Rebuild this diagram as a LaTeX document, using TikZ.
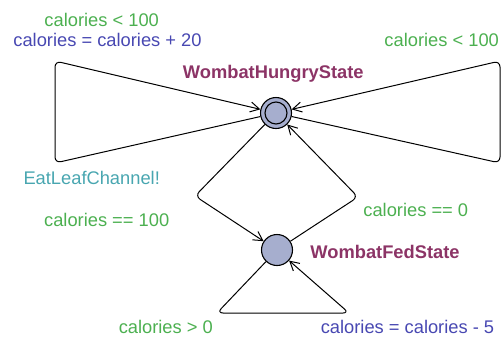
\documentclass[tikz,border=0pt]{standalone}
\usepackage{fontspec}
\setmainfont{Liberation Sans}
\usetikzlibrary{arrows.meta}
\definecolor{guardc}{RGB}{76,176,80}
\definecolor{assignc}{RGB}{72,72,178}
\definecolor{syncc}{RGB}{72,166,176}
\definecolor{namec}{RGB}{140,52,102}
\definecolor{statefill}{RGB}{166,174,206}
\tikzset{
  lbl/.style={anchor=base, inner sep=0pt, font=\fontsize{18.3}{20}\selectfont},
  guard/.style={lbl, text=guardc},
  assign/.style={lbl, text=assignc},
  sync/.style={lbl, text=syncc},
  sname/.style={lbl, text=namec, font=\fontsize{18.3}{20}\selectfont\bfseries},
  state/.style={circle, draw=black, line width=1.1pt, fill=statefill, minimum size=31pt, inner sep=0pt},
  edge/.style={line width=1pt, rounded corners=6pt},
  arr/.style={-{Straight Barb[length=9pt,width=10pt,line width=1pt]}}
}
\begin{document}
\begin{tikzpicture}[x=1pt,y=-1pt]
\useasboundingbox (0,0) rectangle (503,338);
% states
\node[state] (h) at (276,113) {};
\draw[line width=1.1pt] (h.center) circle (11pt);
\node[state] (f) at (277,250) {};
% corner coordinates
\coordinate (lt) at (55,61);
\coordinate (lb) at (55,163);
\coordinate (rt) at (500,61);
\coordinate (rb) at (500,163);
\coordinate (hl) at (195,196);
\coordinate (fr) at (358,197);
\coordinate (bl) at (217,313);
\coordinate (br) at (349,313);
% edges
\draw[edge,arr] (h) -- (lb) -- (lt) -- (h);
\draw[edge,arr] (h) -- (rb) -- (rt) -- (h);
\draw[edge,arr] (h) -- (hl) -- (f);
\draw[edge,arr] (f) -- (fr) -- (h);
\draw[edge,arr] (f) -- (bl) -- (br) -- (f);
% labels
\node[guard] (g1) at (101.7,26) {calories < 100};
\node[assign] (a1) at (107.5,46.5) {calories = calories + 20};
\node[guard] (g2) at (441.7,46.7) {calories < 100};
\node[sname] (nh) at (273.3,78) {WombatHungryState};
\node[sync] (s1) at (91.7,184.3) {EatLeafChannel!};
\node[guard] (g3) at (106.7,226.7) {calories == 100};
\node[guard] (g4) at (415.8,216) {calories == 0};
\node[sname] (nf) at (385,258.3) {WombatFedState};
\node[guard] (g5) at (165.8,333.3) {calories > 0};
\node[assign] (a2) at (407.5,333.3) {calories = calories - 5};
\end{tikzpicture}
\end{document}
